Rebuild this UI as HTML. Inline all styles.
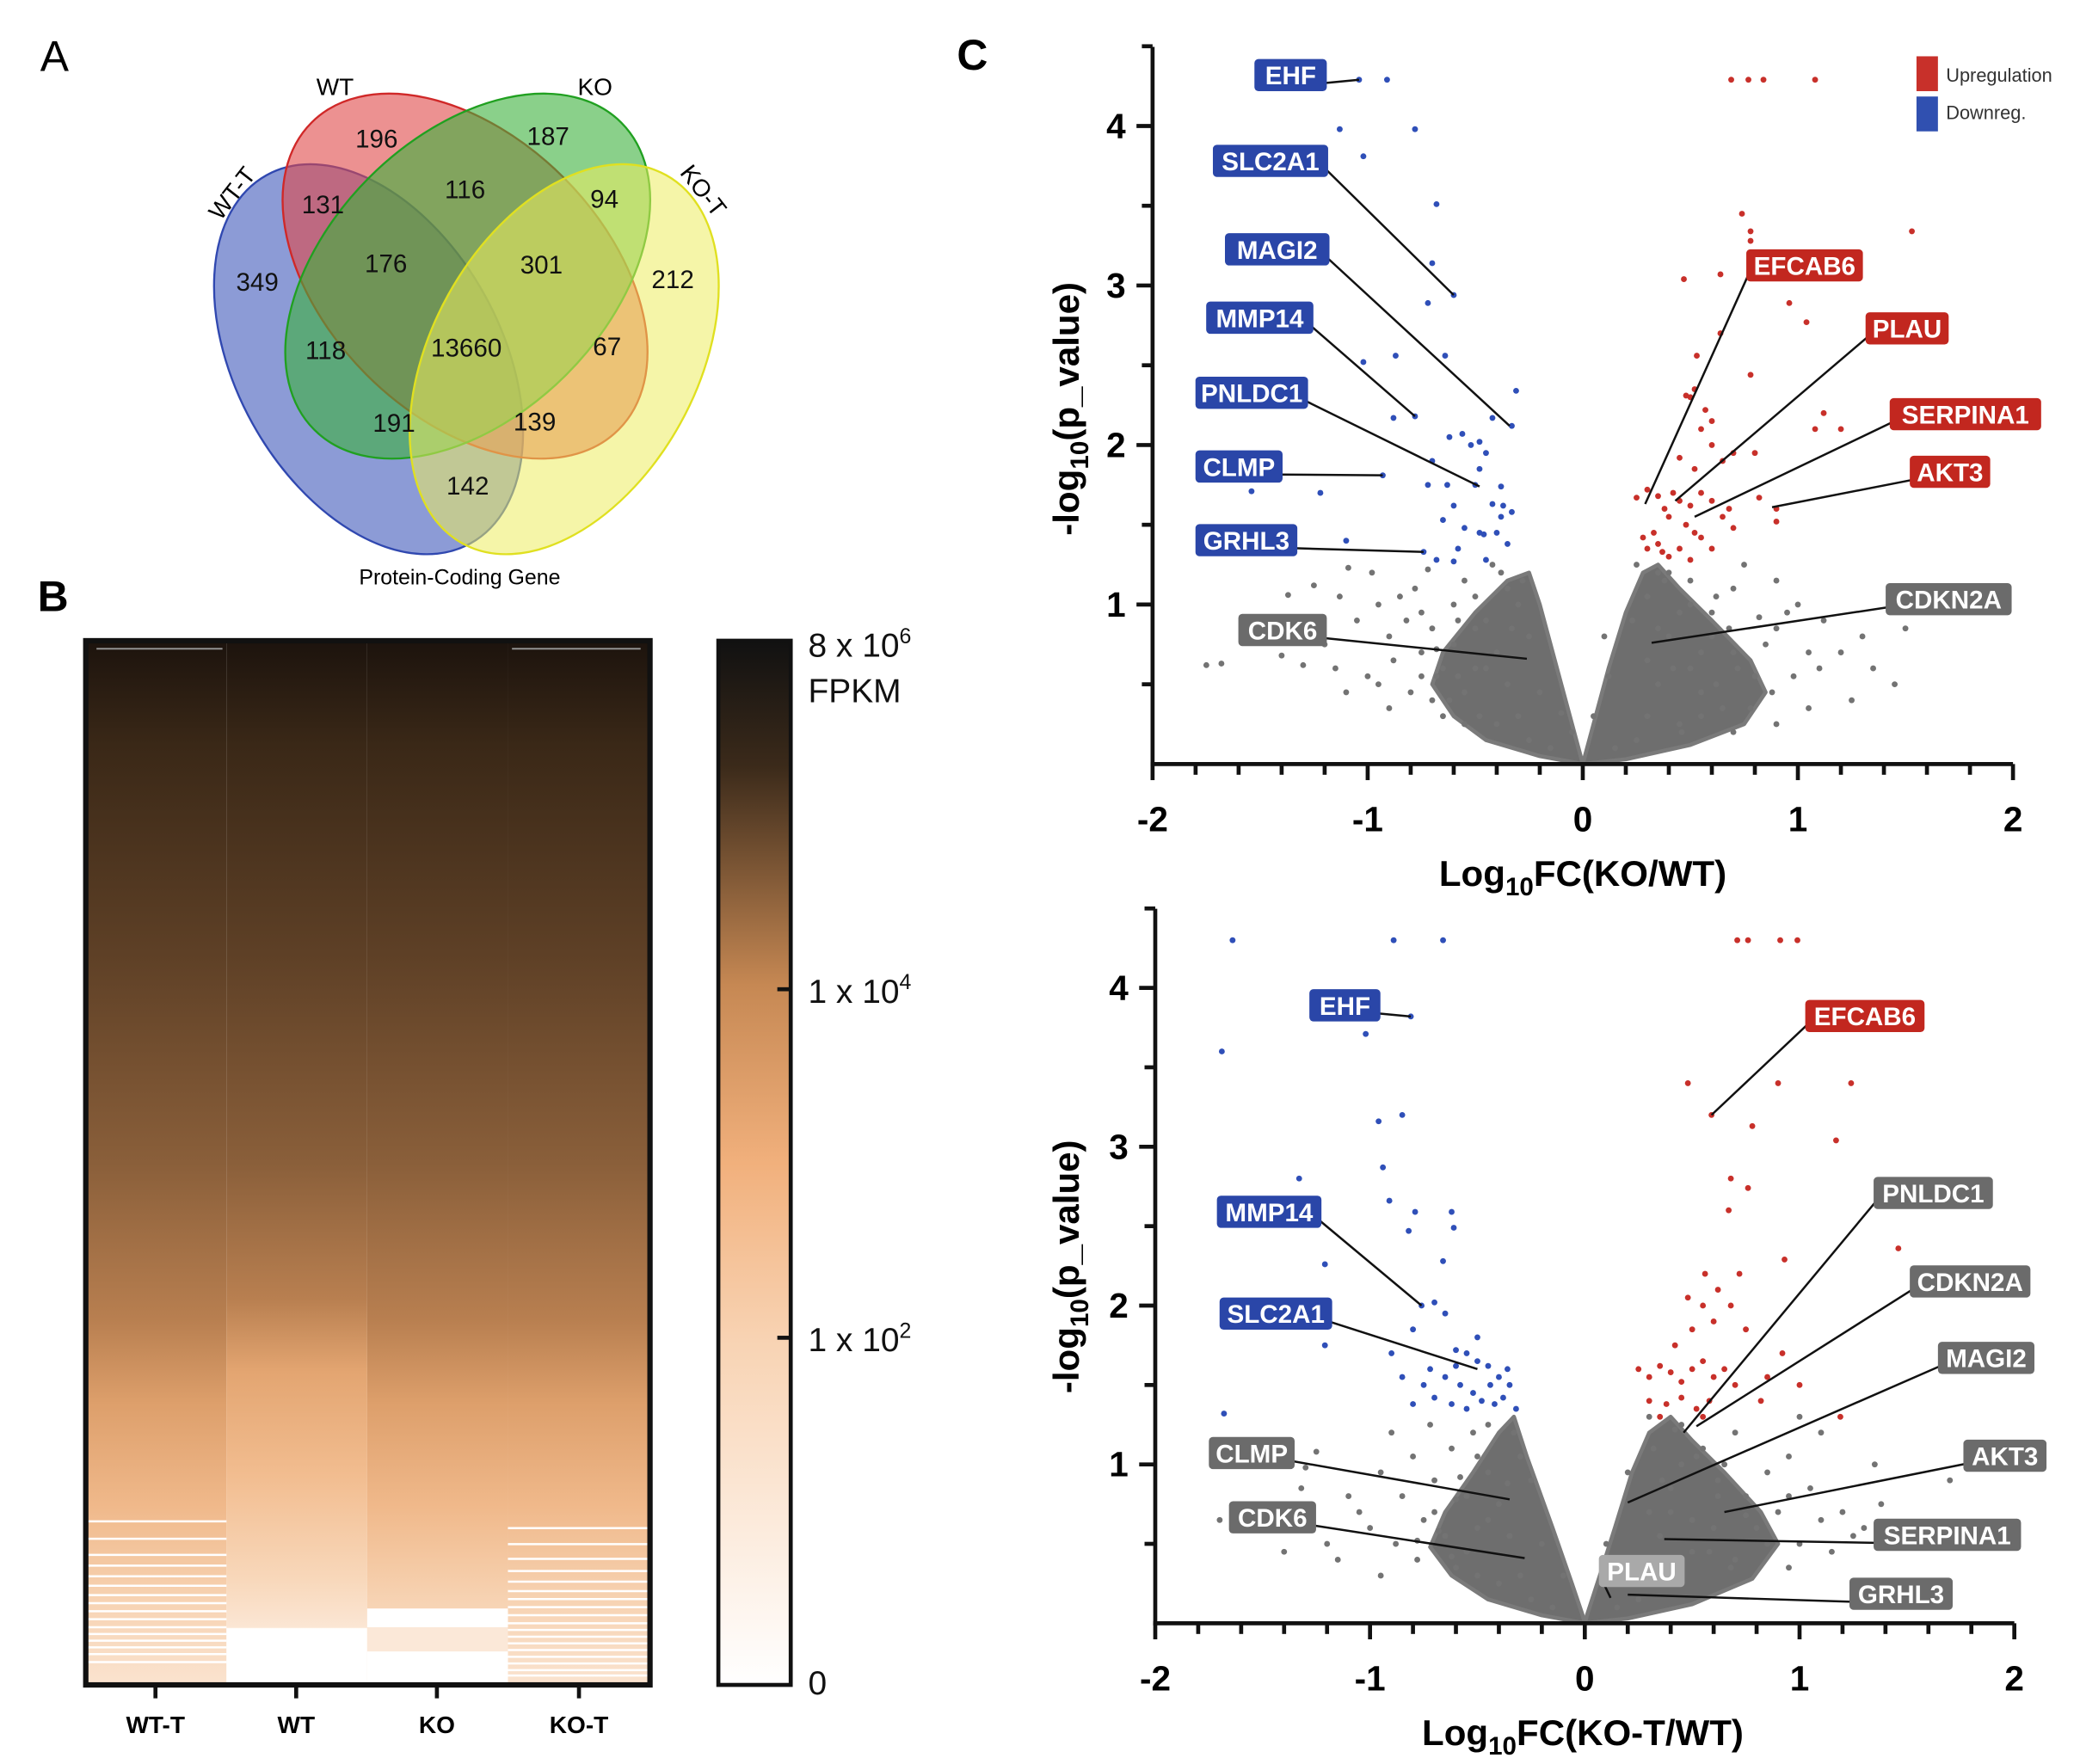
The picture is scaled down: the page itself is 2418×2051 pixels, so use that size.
<!DOCTYPE html>
<html><head><meta charset="utf-8"><style>
html,body{margin:0;padding:0;background:#fff;}
svg{display:block;font-family:"Liberation Sans",Arial,sans-serif;}
</style></head><body>
<svg id="fig" width="2418" height="2051" viewBox="0 0 1552 1316" preserveAspectRatio="none">
<defs>
<linearGradient id="hm" x1="0" y1="0" x2="0" y2="1">
<stop offset="0" stop-color="#1c130d"/><stop offset="0.1" stop-color="#3a2817"/><stop offset="0.3" stop-color="#5e4026"/><stop offset="0.5" stop-color="#8a5f3a"/><stop offset="0.65" stop-color="#b87f50"/><stop offset="0.73" stop-color="#dd9f6b"/><stop offset="0.83" stop-color="#f0b98b"/><stop offset="0.92" stop-color="#f7d3b3"/><stop offset="1" stop-color="#fae3cf"/>
</linearGradient>
<linearGradient id="hmwt" x1="0" y1="0" x2="0" y2="1">
<stop offset="0" stop-color="#1c130d"/><stop offset="0.1" stop-color="#3a2817"/><stop offset="0.3" stop-color="#5e4026"/><stop offset="0.5" stop-color="#8a5f3a"/><stop offset="0.63" stop-color="#b87f50"/><stop offset="0.7" stop-color="#e3a571"/><stop offset="0.8" stop-color="#f2bd90"/><stop offset="0.9" stop-color="#f8d8bb"/><stop offset="0.945" stop-color="#fbe6d4"/><stop offset="0.946" stop-color="#ffffff"/><stop offset="1" stop-color="#ffffff"/>
</linearGradient>
<linearGradient id="cb" x1="0" y1="0" x2="0" y2="1">
<stop offset="0" stop-color="#111"/><stop offset="0.12" stop-color="#3b2a1a"/><stop offset="0.33" stop-color="#c68853"/><stop offset="0.5" stop-color="#f1b07c"/><stop offset="0.67" stop-color="#f8d3b3"/><stop offset="1" stop-color="#ffffff"/>
</linearGradient>
</defs>

<text x="30" y="53" font-size="32">A</text>
<text x="28" y="456" font-size="32" font-weight="bold">B</text>
<text x="714" y="52" font-size="32" font-weight="bold">C</text>

<g>
<ellipse cx="275" cy="268" rx="157" ry="99" transform="rotate(61 275 268)" fill="#4e66c0" fill-opacity="0.65" stroke="#3048b0" stroke-width="1.5"/>
<ellipse cx="347" cy="206" rx="162" ry="104" transform="rotate(45 347 206)" fill="#e04848" fill-opacity="0.6" stroke="#d02828" stroke-width="1.5"/>
<ellipse cx="349" cy="206" rx="162" ry="104" transform="rotate(-45 349 206)" fill="#3cb03c" fill-opacity="0.6" stroke="#20a020" stroke-width="1.5"/>
<ellipse cx="421" cy="268" rx="157" ry="99" transform="rotate(-61 421 268)" fill="#ecec60" fill-opacity="0.55" stroke="#e0e020" stroke-width="1.5"/>
<g font-size="19" fill="#111" text-anchor="middle">
<text x="281" y="110">196</text><text x="409" y="108">187</text>
<text x="241" y="159">131</text><text x="347" y="148">116</text><text x="451" y="155">94</text>
<text x="192" y="217">349</text><text x="288" y="203">176</text><text x="404" y="204">301</text><text x="502" y="215">212</text>
<text x="243" y="268">118</text><text x="348" y="266">13660</text><text x="453" y="265">67</text>
<text x="294" y="322">191</text><text x="399" y="321">139</text><text x="349" y="369">142</text>
</g>
<text x="250" y="71" font-size="18" text-anchor="middle">WT</text>
<text x="444" y="71" font-size="18" text-anchor="middle">KO</text>
<text x="178" y="148" font-size="18" text-anchor="middle" transform="rotate(-52 178 148)">WT-T</text>
<text x="520" y="146" font-size="18" text-anchor="middle" transform="rotate(52 520 146)">KO-T</text>
<text x="343" y="436" font-size="16" text-anchor="middle">Protein-Coding Gene</text>
</g>

<g>
<rect x="64" y="478" width="105" height="779" fill="url(#hm)"/>
<rect x="169" y="478" width="105" height="779" fill="url(#hmwt)"/>
<rect x="274" y="478" width="105" height="779" fill="url(#hm)"/>
<rect x="379" y="478" width="106" height="779" fill="url(#hm)"/>
<rect x="274" y="1200" width="105" height="14" fill="#fff"/>
<rect x="274" y="1214" width="105" height="18" fill="#fbe8d8"/>
<rect x="274" y="1232" width="105" height="25" fill="#fff"/>
<g id="stripes" stroke="#fff" stroke-width="1.6"></g>
<rect x="64" y="478" width="421" height="779" fill="none" stroke="#111" stroke-width="4"/>
<line x1="72" y1="484" x2="166" y2="484" stroke="#999" stroke-width="1.2"/>
<line x1="382" y1="484" x2="478" y2="484" stroke="#999" stroke-width="1.2"/>
<g stroke="#111" stroke-width="3"><line x1="116" y1="1257" x2="116" y2="1267"/><line x1="221" y1="1257" x2="221" y2="1267"/><line x1="326" y1="1257" x2="326" y2="1267"/><line x1="432" y1="1257" x2="432" y2="1267"/></g>
<g font-size="18" font-weight="bold" text-anchor="middle">
<text x="116" y="1293">WT-T</text>
<text x="221" y="1293">WT</text>
<text x="326" y="1293">KO</text>
<text x="432" y="1293">KO-T</text>
</g>
</g>
<g>
<rect x="536" y="478" width="54" height="779" fill="url(#cb)" stroke="#111" stroke-width="3"/>
<g stroke="#111" stroke-width="3"><line x1="580" y1="738" x2="590" y2="738"/><line x1="580" y1="998" x2="590" y2="998"/></g>
<g font-size="25" fill="#111">
<text x="603" y="490">8 x 10<tspan font-size="16" dy="-10">6</tspan></text>
<text x="603" y="524">FPKM</text>
<text x="603" y="748">1 x 10<tspan font-size="16" dy="-10">4</tspan></text>
<text x="603" y="1008">1 x 10<tspan font-size="16" dy="-10">2</tspan></text>
<text x="603" y="1264">0</text>
</g>
</g>

<g id="plot1"></g>
<g id="plot2"></g>

<g>
<rect x="1430" y="42" width="16" height="26" fill="#c8302a"/>
<text x="1452" y="61" font-size="14" fill="#333">Upregulation</text>
<rect x="1430" y="72" width="16" height="26" fill="#3050b0"/>
<text x="1452" y="89" font-size="14" fill="#333">Downreg.</text>
</g>
</svg>
<script>
// ---------- Plot 1 data (KO/WT) ----------
const p1Blue = [[-1.04,4.29],[-0.91,4.29],[-1.13,3.98],[-0.78,3.98],[-1.02,3.81],[-0.68,3.51],[-0.70,3.14],[-0.60,2.94],[-0.72,2.89],[-0.64,2.56],[-0.87,2.56],[-1.02,2.52],[-0.31,2.34],[-0.33,2.12],[-0.78,2.18],[-0.88,2.17],[-0.93,1.81],[-1.22,1.70],[-1.54,1.71],[-0.74,1.33],[-1.10,1.40],[-0.62,2.05],[-0.56,2.07],[-0.52,2.0],[-0.48,2.02],[-0.45,1.95],[-0.48,1.85],[-0.72,1.75],[-0.63,1.75],[-0.5,1.75],[-0.38,1.74],[-0.6,1.62],[-0.42,1.63],[-0.37,1.62],[-0.65,1.53],[-0.55,1.48],[-0.48,1.45],[-0.4,1.45],[-0.38,1.55],[-0.33,1.58],[-0.58,1.35],[-0.68,1.28],[-0.45,1.28],[-0.6,1.27],[-0.35,1.38],[-0.42,2.17],[-0.7,1.9],[-0.46,1.44]];
const p1Red = [[0.69,4.29],[0.77,4.29],[0.84,4.29],[1.08,4.29],[0.74,3.45],[0.78,3.34],[0.78,3.28],[1.53,3.34],[0.47,3.04],[0.64,3.07],[0.96,2.89],[1.04,2.77],[0.64,2.7],[0.53,2.56],[0.78,2.44],[0.48,2.31],[0.25,1.67],[0.3,1.72],[0.35,1.68],[0.42,1.7],[0.38,1.6],[0.45,1.65],[0.5,1.62],[0.55,1.7],[0.6,1.65],[0.65,1.55],[0.68,1.6],[0.4,1.55],[0.48,1.5],[0.52,1.45],[0.55,1.42],[0.28,1.42],[0.3,1.35],[0.35,1.38],[0.4,1.3],[0.45,1.35],[0.5,1.28],[0.6,1.35],[0.7,1.48],[0.82,1.67],[0.9,1.52],[0.9,1.6],[0.52,1.85],[0.6,2.0],[0.65,1.9],[0.45,1.92],[0.55,2.1],[0.6,2.15],[0.5,2.3],[0.52,2.35],[0.57,2.22],[0.8,1.95],[1.08,2.1],[1.12,2.2],[1.2,2.1],[0.7,1.95],[0.33,1.45],[0.37,1.33]];
const p1Gray = [[-1.75,0.62],[-1.68,0.63],[-1.4,0.68],[-1.3,0.62],[-1.37,1.06],[-1.25,1.12],[-1.13,1.05],[-1.09,1.23],[-1.05,0.9],[-0.98,1.2],[-0.95,1.0],[-0.9,0.8],[-0.85,1.05],[-0.82,0.9],[-0.78,1.1],[-0.75,0.95],[-0.72,1.22],[-0.7,0.85],[-1.2,0.75],[-1.15,0.6],[-1.0,0.55],[-0.95,0.5],[-0.88,0.65],[-0.8,0.45],[-0.75,0.7],[-0.7,0.4],[-0.65,0.6],[-0.6,1.0],[-0.58,0.55],[-0.55,1.15],[-0.5,0.85],[-0.48,0.3],[-0.42,1.25],[-0.38,1.2],[-0.35,1.1],[-1.1,0.45],[-0.9,0.35],[-0.65,0.3],[-0.55,0.25],[-0.25,0.8],[-0.2,0.45],[-0.1,0.32],[-0.05,0.2],[0.75,1.25],[0.7,1.1],[0.82,0.92],[0.9,1.15],[0.95,0.95],[1.0,1.0],[1.05,0.7],[1.1,0.6],[1.2,0.7],[1.3,0.8],[1.35,0.6],[1.45,0.5],[1.5,0.85],[1.12,0.9],[0.98,0.55],[0.88,0.45],[0.85,0.75],[0.78,0.35],[0.72,0.6],[0.68,0.85],[0.62,0.5],[0.6,0.95],[0.55,0.3],[0.55,0.7],[0.5,1.0],[0.46,0.2],[0.42,0.6],[0.38,1.15],[0.35,1.2],[0.25,1.25],[0.23,0.9],[0.12,0.55],[0.1,0.8],[0.05,0.3],[0.9,0.25],[1.05,0.35],[1.25,0.4],[0.7,0.2],
[-0.3,0.3],[-0.35,0.5],[-0.4,0.7],[-0.45,0.9],[-0.5,0.6],[-0.55,0.45],[-0.6,0.75],[-0.62,0.4],[-0.68,0.55],[-0.3,1.0],[-0.28,1.15],[-0.5,1.05],[-0.4,0.25],[-0.25,0.15],[-0.15,0.1],[-0.33,0.85],[-0.45,0.6],[-0.58,0.9],[-0.68,0.72],[-0.75,0.55],[0.3,0.3],[0.35,0.5],[0.4,0.8],[0.45,0.95],[0.5,0.6],[0.55,0.45],[0.6,0.8],[0.65,0.35],[0.7,0.7],[0.3,1.05],[0.4,1.2],[0.5,1.15],[0.45,0.25],[0.25,0.15],[0.15,0.1],[0.35,0.85],[0.62,1.05],[0.8,0.55],[0.9,0.85],[0.3,0.65]];
const p1LeftCloud = [[0,0],[-0.2,0.05],[-0.45,0.15],[-0.6,0.3],[-0.7,0.5],[-0.65,0.7],[-0.5,0.95],[-0.35,1.15],[-0.25,1.2],[-0.2,1.0],[-0.12,0.6],[-0.05,0.25],[-0.01,0.05]];
const p1RightCloud = [[0.01,0.05],[0.06,0.3],[0.12,0.6],[0.2,0.95],[0.28,1.2],[0.35,1.25],[0.45,1.1],[0.6,0.9],[0.78,0.65],[0.85,0.45],[0.75,0.25],[0.5,0.12],[0.2,0.03],[0,0]];
const p1Labels = ["EHF","SLC2A1","MAGI2","MMP14","PNLDC1","CLMP","GRHL3","CDK6","EFCAB6","PLAU","SERPINA1","AKT3","CDKN2A"];
const p1LabelKind = ["b","b","b","b","b","b","b","g","r","r","r","r","g"];
const p1LabelBox = [[936,44,54],[905,108,86],[914,174,78],[900,225,80],[892,281,84],[892,336,65],[892,391,76],[924,458,66],[1303,186,87],[1392,233,62],[1410,297,113],[1425,340,60],[1407,435,94]];
const p1Target = [[-1.04,4.29],[-0.60,2.94],[-0.34,2.12],[-0.78,2.18],[-0.48,1.74],[-0.93,1.81],[-0.74,1.33],[-0.26,0.66],[0.29,1.63],[0.43,1.65],[0.52,1.55],[0.88,1.61],[0.32,0.76]];

// ---------- Plot 2 data (KO-T/WT) ----------
const p2Blue = [[-1.64,4.3],[-0.89,4.3],[-0.66,4.3],[-0.81,3.82],[-1.02,3.71],[-1.69,3.6],[-0.96,3.16],[-0.85,3.2],[-0.94,2.87],[-1.33,2.8],[-0.91,2.66],[-0.79,2.59],[-0.62,2.59],[-0.61,2.49],[-0.82,2.47],[-1.21,2.26],[-0.66,2.28],[-0.76,2.0],[-1.21,1.75],[-1.68,1.32],[-0.8,1.85],[-0.7,2.02],[-0.65,1.95],[-0.6,1.72],[-0.55,1.7],[-0.5,1.65],[-0.45,1.62],[-0.4,1.55],[-0.35,1.5],[-0.72,1.6],[-0.65,1.55],[-0.58,1.5],[-0.52,1.45],[-0.48,1.4],[-0.42,1.38],[-0.38,1.42],[-0.32,1.35],[-0.7,1.42],[-0.62,1.38],[-0.55,1.35],[-0.85,1.55],[-0.9,1.7],[-0.5,1.8],[-0.44,1.5],[-0.36,1.6],[-0.6,1.62],[-0.75,1.5],[-0.8,1.38]];
const p2Red = [[0.71,4.3],[0.76,4.3],[0.91,4.3],[0.99,4.3],[0.59,3.2],[0.48,3.4],[0.9,3.4],[1.24,3.4],[0.78,3.13],[1.17,3.04],[0.68,2.8],[0.76,2.74],[0.67,2.6],[1.46,2.36],[0.93,2.29],[0.56,2.2],[1.19,1.3],[0.25,1.6],[0.3,1.55],[0.35,1.62],[0.4,1.58],[0.45,1.52],[0.5,1.6],[0.55,1.65],[0.6,1.55],[0.65,1.6],[0.7,1.5],[0.3,1.4],[0.38,1.38],[0.45,1.42],[0.52,1.35],[0.58,1.4],[0.42,1.75],[0.5,1.85],[0.6,1.9],[0.55,2.0],[0.68,2.0],[0.75,1.85],[0.85,1.55],[0.92,1.7],[0.82,1.4],[0.48,2.05],[0.62,2.1],[0.72,2.2],[0.35,1.3],[0.55,1.3],[1.0,1.5]];
const p2Gray = [[-1.7,0.65],[-1.62,0.62],[-1.45,0.6],[-1.3,0.98],[-1.25,1.08],[-1.32,0.85],[-1.1,0.8],[-1.05,0.7],[-1.0,0.6],[-0.95,0.95],[-0.9,1.2],[-0.88,0.5],[-0.85,0.8],[-0.8,1.05],[-0.78,0.4],[-0.75,0.65],[-0.72,1.25],[-0.7,0.9],[-0.65,0.55],[-0.62,1.1],[-0.6,0.35],[-0.55,0.8],[-0.52,1.2],[-0.5,0.3],[-0.45,1.25],[-1.2,0.5],[-1.15,0.4],[-1.4,0.45],[-0.95,0.3],[-0.25,0.9],[-0.2,0.5],[-0.1,0.3],[0.1,0.5],[0.2,0.95],[0.3,1.3],[0.45,1.25],[0.55,1.1],[0.62,0.9],[0.7,1.2],[0.75,0.8],[0.8,0.6],[0.85,0.95],[0.9,0.7],[0.95,1.05],[1.0,0.5],[1.05,0.85],[1.1,0.65],[1.15,0.45],[1.2,0.7],[1.25,0.55],[1.3,0.6],[1.38,0.75],[1.45,0.5],[1.52,0.6],[1.6,0.55],[1.7,0.9],[1.35,1.0],[1.1,1.2],[0.95,0.35],[0.7,0.4],[0.6,0.6],[0.5,0.45],[0.4,0.7],[1.0,1.3],
[-0.3,0.3],[-0.35,0.55],[-0.4,0.75],[-0.45,0.95],[-0.5,0.6],[-0.55,0.45],[-0.6,0.78],[-0.62,0.42],[-0.68,0.58],[-0.3,1.05],[-0.33,1.2],[-0.5,1.05],[-0.4,0.25],[-0.25,0.15],[-0.15,0.1],[-0.36,0.88],[-0.45,0.65],[-0.58,0.92],[-0.7,0.7],[-0.78,0.52],[0.3,0.3],[0.35,0.55],[0.4,0.85],[0.45,1.0],[0.5,0.65],[0.58,0.45],[0.62,0.8],[0.68,0.35],[0.75,0.68],[0.32,1.1],[0.42,1.22],[0.52,1.05],[0.45,0.25],[0.25,0.15],[0.15,0.1],[0.36,0.9],[0.65,1.0],[0.85,0.5],[0.95,0.8],[0.3,0.7]];
const p2LeftCloud = [[0,0],[-0.2,0.05],[-0.45,0.15],[-0.62,0.3],[-0.72,0.48],[-0.65,0.7],[-0.52,0.95],[-0.4,1.2],[-0.33,1.3],[-0.27,1.05],[-0.15,0.6],[-0.06,0.25],[-0.01,0.05]];
const p2RightCloud = [[0.01,0.05],[0.07,0.3],[0.14,0.6],[0.22,0.95],[0.3,1.2],[0.4,1.3],[0.5,1.15],[0.65,0.95],[0.82,0.7],[0.9,0.5],[0.78,0.28],[0.5,0.12],[0.2,0.03],[0,0]];
const p2Labels = ["EHF","EFCAB6","MMP14","SLC2A1","PNLDC1","CDKN2A","MAGI2","CLMP","AKT3","CDK6","SERPINA1","PLAU","GRHL3"];
const p2LabelKind = ["b","r","b","b","g","g","g","g","g","g","g","l","g"];
const p2LabelBox = [[977,738,53],[1347,746,89],[908,892,78],[910,968,84],[1398,878,89],[1425,944,90],[1446,1001,72],[902,1072,64],[1465,1074,62],[917,1120,65],[1398,1133,110],[1193,1160,64],[1380,1177,77]];
const p2Target = [[-0.81,3.82],[0.59,3.2],[-0.76,2.0],[-0.5,1.6],[0.46,1.2],[0.52,1.24],[0.2,0.76],[-0.35,0.78],[0.65,0.7],[-0.28,0.41],[0.37,0.53],[0.12,0.16],[0.2,0.18]];

const yTicks = [1,2,3,4];
const xTicks = [-2,-1,0,1,2];

const NS = "http://www.w3.org/2000/svg";
function mk(tag, attrs, parent){ const e=document.createElementNS(NS,tag); for(const k in attrs) e.setAttribute(k,attrs[k]); parent.appendChild(e); return e; }

function drawVolcano(g, cfg){
  const X = v => cfg.x0 + (v - cfg.xmin) * (cfg.x1 - cfg.x0) / (cfg.xmax - cfg.xmin);
  const Y = v => cfg.yb - v * cfg.yu;
  [cfg.left, cfg.right].forEach(poly=>{
    const c = mk("polygon",{points: poly.map(p=>X(p[0])+","+Y(p[1])).join(" "), fill:"#6e6e6e", stroke:"#7a7a7a", "stroke-width":3, "stroke-linejoin":"round"}, g);
    
    
  });
  const drawPts = (arr, col, nm) => arr.forEach(p=>{
    const c = mk("circle",{cx:X(p[0]),cy:Y(p[1]),r:2.2,fill:col}, g);
    
    
  });
  drawPts(cfg.gray, "#737373", "point-not-significant");
  drawPts(cfg.blue, "#2f4fb8", "point-downregulated");
  drawPts(cfg.red, "#c8302a", "point-upregulated");
  const ax = mk("g",{stroke:"#111","stroke-width":3}, g);
  
  
  mk("line",{x1:cfg.x0,y1:cfg.yt,x2:cfg.x0,y2:cfg.yb+1.5},ax);
  mk("line",{x1:cfg.x0-1.5,y1:cfg.yb,x2:cfg.x1,y2:cfg.yb},ax);
  for(let v=0.5; v<=4.5; v+=0.5){
    const major = Number.isInteger(v);
    mk("line",{x1:cfg.x0-(major?12:8),y1:Y(v),x2:cfg.x0,y2:Y(v)},ax);
  }
  for(let i=-10;i<=10;i++){
    const v=i/5, major=(i%5===0);
    mk("line",{x1:X(v),y1:cfg.yb,x2:X(v),y2:cfg.yb+(major?12:8)},ax);
  }
  yTicks.forEach(v=>{
    const t = mk("text",{x:cfg.x0-20,y:Y(v)+9,"font-size":26,"font-weight":"bold","text-anchor":"end"}, g);
    t.textContent = v;
    
    
  });
  xTicks.forEach(v=>{
    const t = mk("text",{x:X(v),y:cfg.yb+50,"font-size":26,"font-weight":"bold","text-anchor":"middle"}, g);
    t.textContent = v;
    
    
  });
  const yt = mk("text",{x:0,y:0,"font-size":27,"font-weight":"bold","text-anchor":"middle",transform:`translate(805 ${cfg.ytitleY}) rotate(-90)`}, g);
  yt.innerHTML = '-log<tspan font-size="19" dy="7">10</tspan><tspan dy="-7">(p_value)</tspan>';
  
  
  const xt = mk("text",{x:1181,y:cfg.yb+91,"font-size":27,"font-weight":"bold","text-anchor":"middle"}, g);
  xt.innerHTML = 'Log<tspan font-size="19" dy="7">10</tspan><tspan dy="-7">FC(' + cfg.xtitle + ')</tspan>';
  
  
  const colors = {b:"#2a46a8", r:"#c2271f", g:"#6b6b6b", l:"#a9a9a9"};
  cfg.labels.forEach((name,i)=>{
    const [bx,by,bw] = cfg.boxes[i];
    const tg = cfg.targets[i];
    const tx = X(tg[0]), ty = Y(tg[1]);
    const onLeft = tx > bx + bw;
    const sx = onLeft ? bx + bw - 2 : bx + 2;
    const ln = mk("line",{x1:sx,y1:by+18,x2:tx,y2:ty,stroke:"#111","stroke-width":1.6}, g);
    
    
    const r = mk("rect",{x:bx,y:by,width:bw,height:24,rx:3,fill:colors[cfg.kinds[i]]}, g);
    
    
    const t = mk("text",{x:bx+bw/2,y:by+19,"font-size":19,"font-weight":"bold",fill:"#fff","text-anchor":"middle"}, g);
    t.textContent = name;
    
    
  });
}

drawVolcano(document.getElementById("plot1"), {x0:860,x1:1502,xmin:-2,xmax:2,yb:570,yu:119,yt:35,ytitleY:305,xtitle:"KO/WT",
  blue:p1Blue, red:p1Red, gray:p1Gray, left:p1LeftCloud, right:p1RightCloud, labels:p1Labels, kinds:p1LabelKind, boxes:p1LabelBox, targets:p1Target});
drawVolcano(document.getElementById("plot2"), {x0:862,x1:1503,xmin:-2,xmax:2,yb:1211,yu:118.5,yt:678,ytitleY:945,xtitle:"KO-T/WT",
  blue:p2Blue, red:p2Red, gray:p2Gray, left:p2LeftCloud, right:p2RightCloud, labels:p2Labels, kinds:p2LabelKind, boxes:p2LabelBox, targets:p2Target});

const stripeRowsWTT = [1135,1148,1160,1168,1176,1183,1190,1196,1202,1208,1214,1219,1224,1229,1234,1240];
const stripeRowsKOT = [1140,1152,1163,1172,1180,1187,1193,1199,1205,1211,1216,1221,1226,1231,1236,1241,1246,1250];
const sg = document.getElementById("stripes");
stripeRowsWTT.forEach(y=>{ const l=mk("line",{x1:64,y1:y,x2:169,y2:y},sg);   });
stripeRowsKOT.forEach(y=>{ const l=mk("line",{x1:379,y1:y,x2:485,y2:y},sg);   });
</script>
</body></html>
